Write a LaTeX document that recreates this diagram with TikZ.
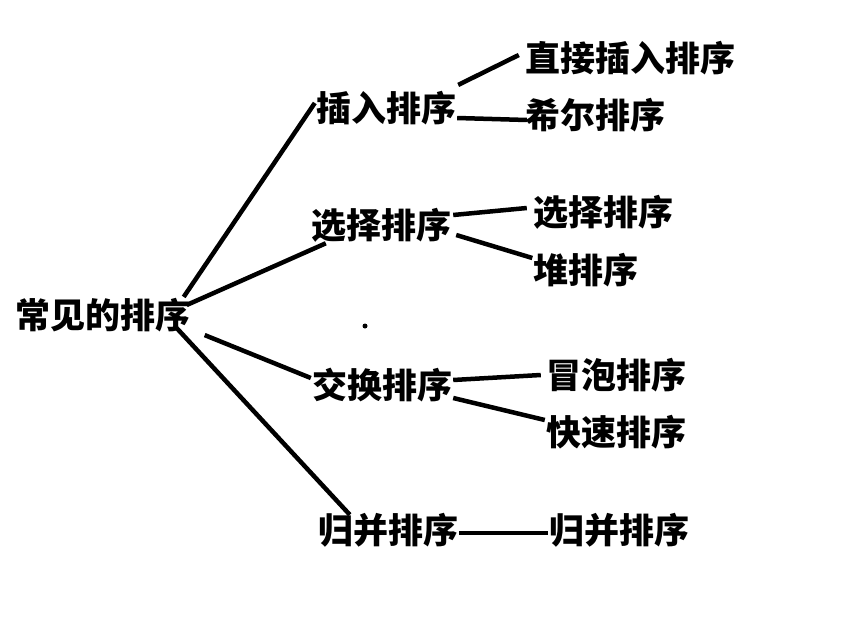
\documentclass[tikz,border=0pt]{standalone}
\usepackage{fontspec}
\newfontfamily\cjk{Noto Sans CJK SC}

\begin{document}
\begin{tikzpicture}[
    x=1pt, y=-1pt,
    item/.style={font=\cjk\bfseries\fontsize{35}{40}\selectfont, inner sep=1pt},
    link/.style={line width=4.5pt},
    speck/.style={circle, fill, inner sep=0pt, minimum size=5pt},
]
\useasboundingbox (0,0) rectangle (852,618);

% ---- root ---------------------------------------------------------------------
\node[item] (root) at (103,315) {常见的排序};

% ---- middle column --------------------------------------------------------------
\node[item] (ins)   at (386,108) {插入排序};
\node[item] (sel)   at (381,225) {选择排序};
\node[item] (exch)  at (382,385) {交换排序};
\node[item] (merge) at (388,530) {归并排序};

% ---- right column ---------------------------------------------------------------
\node[item] (direct) at (630,58)  {直接插入排序};
\node[item] (shell)  at (595,115) {希尔排序};
\node[item] (selr)   at (603,212) {选择排序};
\node[item] (heap)   at (586,270) {堆排序};
\node[item] (bubble) at (616,375) {冒泡排序};
\node[item] (quick)  at (616,432) {快速排序};
\node[item] (merger) at (619,530) {归并排序};

\node[speck] (dot) at (365,326) {};

% ---- root -> middle ---------------------------------------------------------------
\draw[link] ([xshift=-8pt]root.north east) -- ([yshift=5pt]ins.west);
\draw[link] ([shift={(-5pt,10pt)}]root.east) -- ([xshift=16pt]sel.south west);
\draw[link] ([shift={(13pt,-2pt)}]root.south east) -- ([yshift=7pt]exch.west);
\draw[link] ([shift={(-15pt,5pt)}]root.south east) -- ([shift={(33pt,-3pt)}]merge.north west);

% ---- middle -> right --------------------------------------------------------------
\draw[link] ([shift={(1pt,5pt)}]ins.north east) -- ([shift={(-5pt,3pt)}]direct.west);
\draw[link] ([yshift=-10pt]ins.east) -- ([shift={(3pt,-5pt)}]shell.west);
\draw[link] ([shift={(1pt,10pt)}]sel.east) -- ([shift={(-5pt,4pt)}]selr.west);
\draw[link] ([shift={(4pt,-10pt)}]sel.east) -- ([yshift=12pt]heap.west);
\draw[link] ([yshift=5pt]exch.east) -- ([xshift=-4pt]bubble.west);
\draw[link] ([yshift=-13pt]exch.east) -- ([yshift=12pt]quick.west);
\draw[link] ([yshift=-3pt]merge.east) -- ([yshift=-3pt]merger.west);

\end{tikzpicture}
\end{document}
